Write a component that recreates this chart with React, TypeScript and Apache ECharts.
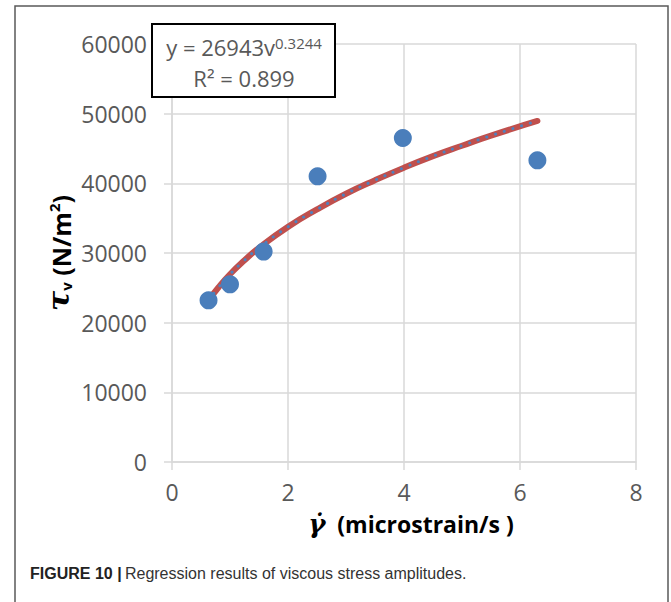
import React, { useEffect, useRef } from "react";
import * as echarts from "echarts";

const strainRate = [0.63, 1.0, 1.58, 2.51, 3.98, 6.3];
const stressAmp = [23200, 25500, 30200, 41000, 46500, 43300];

const trendX = [0.63, 0.8, 1.0, 1.25, 1.5, 2.0, 2.5, 3.0, 3.5, 4.0, 4.5, 5.0, 5.5, 6.3];
const trendY = [23200, 25050, 26950, 28950, 30750, 33750, 36250, 38500, 40450, 42250, 43900, 45400, 46850, 48950];

const xTicks = [0, 2, 4, 6, 8];
const yTicks = [0, 10000, 20000, 30000, 40000, 50000, 60000];

const FONT = "'Open Sans', 'DejaVu Sans', sans-serif";
const GRID = "#d9d9d9";

export default function App() {
  const ref = useRef<HTMLDivElement>(null);
  useEffect(() => {
    const chart = echarts.init(ref.current!, null, { renderer: "svg" });
    const pts = strainRate.map((x, i) => [x, stressAmp[i]]);
    const trend = trendX.map((x, i) => [x, trendY[i]]);
    chart.setOption({
      animation: false,
      backgroundColor: "#fff",
      grid: { left: 172, right: 35, top: 44, bottom: 140 },
      xAxis: {
        type: "value",
        min: xTicks[0],
        max: xTicks[xTicks.length - 1],
        interval: 2,
        axisLine: { show: true, lineStyle: { color: GRID, width: 1.5 } },
        axisTick: { show: true, length: 8, lineStyle: { color: GRID, width: 1.5 } },
        splitLine: { show: true, lineStyle: { color: GRID, width: 1.5 } },
        axisLabel: { color: "#595959", fontSize: 23, fontFamily: FONT, margin: 18 },
      },
      yAxis: {
        type: "value",
        min: yTicks[0],
        max: yTicks[yTicks.length - 1],
        interval: 10000,
        axisLine: { show: true, lineStyle: { color: GRID, width: 1.5 } },
        axisTick: { show: true, length: 8, lineStyle: { color: GRID, width: 1.5 } },
        splitLine: { show: true, lineStyle: { color: GRID, width: 1.5 } },
        axisLabel: { color: "#595959", fontSize: 23, fontFamily: FONT, margin: 25, formatter: (v: number) => String(v) },
      },
      series: [
        {
          type: "line",
          data: trend,
          showSymbol: false,
          smooth: true,
          lineStyle: { color: "#c0504d", width: 6, cap: "round" },
          z: 2,
        },
        {
          type: "line",
          data: trend,
          showSymbol: false,
          smooth: true,
          lineStyle: { color: "#4f81bd", width: 3, type: [0.1, 9], cap: "round" },
          z: 3,
        },
        {
          type: "scatter",
          data: pts,
          symbolSize: 18,
          itemStyle: { color: "#4a7ebb", opacity: 1 },
          z: 4,
        },
      ],
      graphic: [
        {
          type: "rect",
          shape: { x: 15, y: 6, width: 653, height: 620 },
          style: { fill: "none", stroke: "#5a5a5a", lineWidth: 1.5 },
          z: 10,
        },
        {
          type: "rect",
          shape: { x: 152, y: 24, width: 183, height: 73 },
          style: { fill: "#fff", stroke: "#000", lineWidth: 2 },
          z: 10,
        },
        {
          type: "text",
          x: 244,
          y: 44,
          z: 11,
          style: {
            text: "{a|y = 26943v}{b|0.3244}",
            align: "center",
            verticalAlign: "middle",
            rich: {
              a: { fontSize: 22, fontFamily: FONT, fill: "#595959", lineHeight: 28, verticalAlign: "bottom" },
              b: { fontSize: 15, fontFamily: FONT, fill: "#595959", lineHeight: 28, verticalAlign: "top", padding: [5, 0, 0, 0] },
            },
          },
        },
        {
          type: "text",
          x: 244,
          y: 78,
          z: 11,
          style: {
            text: "R² = 0.899",
            align: "center",
            verticalAlign: "middle",
            fontSize: 22,
            fontFamily: FONT,
            fill: "#595959",
          },
        },
        {
          type: "text",
          x: 57,
          y: 253,
          rotation: Math.PI / 2,
          z: 11,
          style: {
            text: "{t|τ}{s|v}{n| (N/m}{p|2}{n|)}",
            align: "center",
            verticalAlign: "middle",
            rich: {
              t: { fontSize: 30, fontFamily: "'DejaVu Serif', serif", fontStyle: "italic", fontWeight: "bold", fill: "#000", lineHeight: 32, verticalAlign: "bottom" },
              s: { fontSize: 15, fontFamily: FONT, fontWeight: "bold", fill: "#000", lineHeight: 32, verticalAlign: "bottom" },
              n: { fontSize: 25, fontFamily: FONT, fontWeight: "bold", fill: "#000", lineHeight: 32, verticalAlign: "bottom" },
              p: { fontSize: 15, fontFamily: FONT, fontWeight: "bold", fill: "#000", lineHeight: 32, verticalAlign: "top", padding: [5, 0, 0, 0] },
            },
          },
        },
        {
          type: "text",
          x: 411,
          y: 524,
          z: 11,
          style: {
            text: "{g|γ̇}{n|  (microstrain/s )}",
            align: "center",
            verticalAlign: "middle",
            rich: {
              g: { fontSize: 26, fontFamily: "'DejaVu Serif', serif", fontStyle: "italic", fontWeight: "bold", fill: "#000" },
              n: { fontSize: 23, fontFamily: FONT, fontWeight: "bold", fill: "#000" },
            },
          },
        },
        {
          type: "text",
          x: 30,
          y: 573,
          z: 11,
          style: {
            text: "{b|FIGURE 10 |} {r|Regression results of viscous stress amplitudes.}",
            align: "left",
            verticalAlign: "middle",
            rich: {
              b: { fontSize: 16, fontFamily: "'Liberation Sans', Arial, sans-serif", fontWeight: "bold", fill: "#222" },
              r: { fontSize: 16, fontFamily: "'Liberation Sans', Arial, sans-serif", fill: "#333" },
            },
          },
        },
      ],
    });
    return () => chart.dispose();
  }, []);
  return <div ref={ref} style={{ position: "absolute", left: 0, top: 0, width: 671, height: 602 }} />;
}
